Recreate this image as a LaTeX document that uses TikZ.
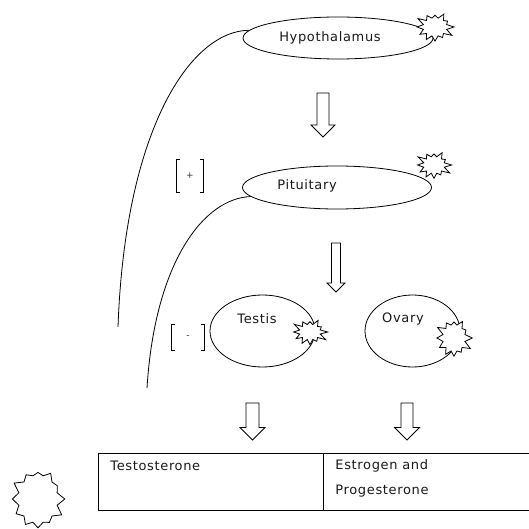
\documentclass[tikz,border=0pt]{standalone}
\usepackage{fontspec}
\setmainfont{DejaVu Sans}
\usetikzlibrary{positioning, shapes.geometric, shapes.symbols}

\newcommand{\squarebrackets}[1]{%
  \draw ([xshift=3pt]#1.north west) -- (#1.north west) -- (#1.south west) -- ([xshift=3pt]#1.south west);
  \draw ([xshift=-3pt]#1.north east) -- (#1.north east) -- (#1.south east) -- ([xshift=-3pt]#1.south east);}
% name, x, top, tip, half shaft, half head
\newcommand{\hollowarrow}[6]{%
  \draw[fill=white] (#2-#5,#3) -- (#2+#5,#3) -- (#2+#5,#4-#6) -- (#2+#6,#4-#6) -- (#2,#4)
    -- (#2-#6,#4-#6) -- (#2-#5,#4-#6) -- cycle;
  \coordinate (#1) at (#2,#4);}

\begin{document}
\begin{tikzpicture}[
    x=1pt, y=-1pt,
    line width=0.8pt,
    every node/.style={inner sep=0pt},
    gland/.style={draw, ellipse},
    lbl/.style={font=\fontsize{13}{25}\selectfont\addfontfeature{LetterSpace=5}, text=black!90},
    burst/.style={draw, fill=white, starburst, starburst points=12, starburst point height=8pt, random starburst=3},
    cell/.style={draw, rectangle, anchor=north west},
    sign/.style={font=\fontsize{9}{9}\selectfont, text=black!80}
]
\useasboundingbox (0,0) rectangle (529,529);

% glands
\node[gland, minimum width=190pt, minimum height=42pt] (hyp) at (338,38) {};
\node[lbl] (hyptext) at (330,38) {Hypothalamus};
\node[gland, minimum width=189pt, minimum height=43pt] (pit) at (337,187.5) {};
\node[lbl] (pittext) at (307,186) {Pituitary};
\node[gland, minimum width=105pt, minimum height=72pt] (testis) at (262.5,331) {};
\node[lbl] (testistext) at (257,319) {Testis};
\node[gland, minimum width=95pt, minimum height=72pt] (ovary) at (412.5,331) {};
\node[lbl] (ovarytext) at (403,319) {Ovary};

% bursts
\node[burst, inner xsep=8.5pt, inner ysep=6.5pt] (hypburst) at (435,27) {};
\node[burst, inner xsep=7.5pt, inner ysep=6pt] (pitburst) at (434,165) {};
\node[burst, inner xsep=7.5pt, inner ysep=5.5pt] (testisburst) at (310,332) {};
\node[burst, inner xsep=8pt, inner ysep=9.5pt] (ovaryburst) at (454,338) {};
\node[burst, inner xsep=14pt, inner ysep=17pt] (keyburst) at (38,499) {};

% hollow arrows
\hollowarrow{arrhyp}{323}{93}{137}{6}{12}
\hollowarrow{arrpit}{336}{243}{292}{4.5}{9}
\hollowarrow{arrtestis}{252.5}{403}{440}{6.5}{12.5}
\hollowarrow{arrovary}{407}{403}{440}{6}{12.5}

% feedback lines
\coordinate (fbhypend) at (118,327);
\coordinate (fbpitend) at (147,388);
\draw (hyp.175) .. controls (190,31) and (125,130) .. (fbhypend);
\draw (pit.186) .. controls (205,198) and (155,260) .. (fbpitend);

\node[sign, minimum width=26pt, minimum height=32pt] (plus) at (190,176) {+};
\squarebrackets{plus}
\node[sign, minimum width=32pt, minimum height=25pt] (minus) at (188,337.5) {-};
\squarebrackets{minus}

% hormones
\node[cell, minimum width=225pt, minimum height=57pt] (malecell) at (98,453) {};
\node[cell, minimum width=207pt, minimum height=57pt] (femalecell) at (323,453) {};
\node[lbl, anchor=west] (testosterone) at (110,466) {Testosterone};
\node[lbl, anchor=north west, align=left] (estrogen) at (335,459) {Estrogen and\\Progesterone};
\end{tikzpicture}
\end{document}
